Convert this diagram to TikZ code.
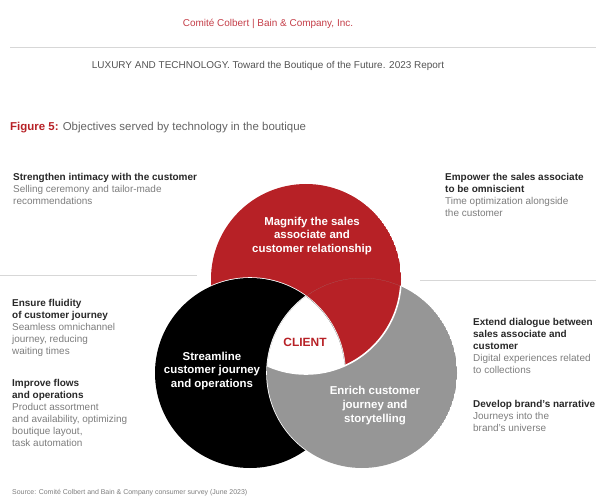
\documentclass[tikz,border=0pt]{standalone}
\usepackage{fontspec}
\setmainfont{Liberation Sans}
\usepackage{tikz}
\usetikzlibrary{positioning}
\definecolor{bainred}{RGB}{183,33,38}
\definecolor{headred}{RGB}{196,62,72}
\definecolor{cgray}{RGB}{150,150,150}
\definecolor{hdtext}{RGB}{40,40,40}
\definecolor{dsctext}{RGB}{125,125,125}
\definecolor{rulegray}{RGB}{215,215,215}
\newcommand{\hd}[1]{{\bfseries\color{hdtext}#1}}
\tikzstyle{sidetxt}=[anchor=north west,inner sep=0pt,align=left,text=dsctext,font=\fontsize{10}{12}\selectfont]
\tikzstyle{ctext}=[inner sep=0pt,align=center,text=white,font=\fontsize{11.5}{14}\selectfont\bfseries]
\tikzstyle{sep}=[draw=white,line width=1.6bp]
\tikzstyle{rule}=[draw=rulegray,line width=0.8bp]
\begin{document}
\begin{tikzpicture}[x=1bp,y=-1bp]
\useasboundingbox (0,0) rectangle (596,496);
% page header
\node[anchor=base,text=headred,font=\fontsize{10}{12}\selectfont] (brand) at (268,27) {Comité Colbert | Bain \& Company, Inc.};
\draw[rule] (10,47) -- (596,47);
\node[anchor=base,text=hdtext!80,font=\fontsize{10}{12}\selectfont] (report) at (268,69) {LUXURY AND TECHNOLOGY. Toward the Boutique of the Future. 2023 Report};
\node[anchor=base west,inner sep=0pt,text=dsctext!80!black,font=\fontsize{11.5}{14}\selectfont] (fig) at (10,131) {{\bfseries\color{bainred}Figure 5:} Objectives served by technology in the boutique};
% circle centres
\coordinate (R) at (306,279);
\coordinate (B) at (250,373);
\coordinate (G) at (362,373);
% each circle loses the part covered by the next one
\begin{scope}
\clip (R) circle[radius=95bp];
\fill[bainred,even odd rule] (R) circle[radius=95bp] (B) circle[radius=95bp];
\draw[sep] (B) circle[radius=95bp];
\end{scope}
\begin{scope}
\clip (B) circle[radius=95bp];
\fill[black,even odd rule] (B) circle[radius=95bp] (G) circle[radius=95bp];
\draw[sep] (G) circle[radius=95bp];
\end{scope}
\begin{scope}
\clip (G) circle[radius=95bp];
\fill[cgray,even odd rule] (G) circle[radius=95bp] (R) circle[radius=95bp];
\draw[sep] (R) circle[radius=95bp];
\end{scope}
\node[ctext] (magnify) at (312,236) {Magnify the sales\\associate and\\customer relationship};
\node[ctext] (stream) at (212,371) {Streamline\\customer journey\\and operations};
\node[ctext] (enrich) at (375,406) {Enrich customer\\journey and\\storytelling};
\node[inner sep=0pt,text=bainred,font=\fontsize{12}{14}\selectfont\bfseries] (client) at (305,342) {CLIENT};
% side notes
\draw[rule] (0,275) -- (197,275);
\draw[rule] (420,280) -- (596,280);
\node[sidetxt] (intim) at (13,173) {\hd{Strengthen intimacy with the customer}\\Selling ceremony and tailor-made\\recommendations};
\node[sidetxt] (omni) at (445,173) {\hd{Empower the sales associate}\\\hd{to be omniscient}\\Time optimization alongside\\the customer};
\node[sidetxt] (fluid) at (12,299) {\hd{Ensure fluidity}\\\hd{of customer journey}\\Seamless omnichannel\\journey, reducing\\waiting times};
\node[sidetxt] (flows) at (12,379) {\hd{Improve flows}\\\hd{and operations}\\Product assortment\\and availability, optimizing\\boutique layout,\\task automation};
\node[sidetxt] (dial) at (473,318) {\hd{Extend dialogue between}\\\hd{sales associate and}\\\hd{customer}\\Digital experiences related\\to collections};
\node[sidetxt] (narr) at (473,400) {\hd{Develop brand's narrative}\\Journeys into the\\brand's universe};
\node[anchor=base west,inner sep=0pt,text=dsctext,font=\fontsize{7}{8}\selectfont] (src) at (12,494) {Source: Comité Colbert and Bain \& Company consumer survey (June 2023)};
\end{tikzpicture}
\end{document}
